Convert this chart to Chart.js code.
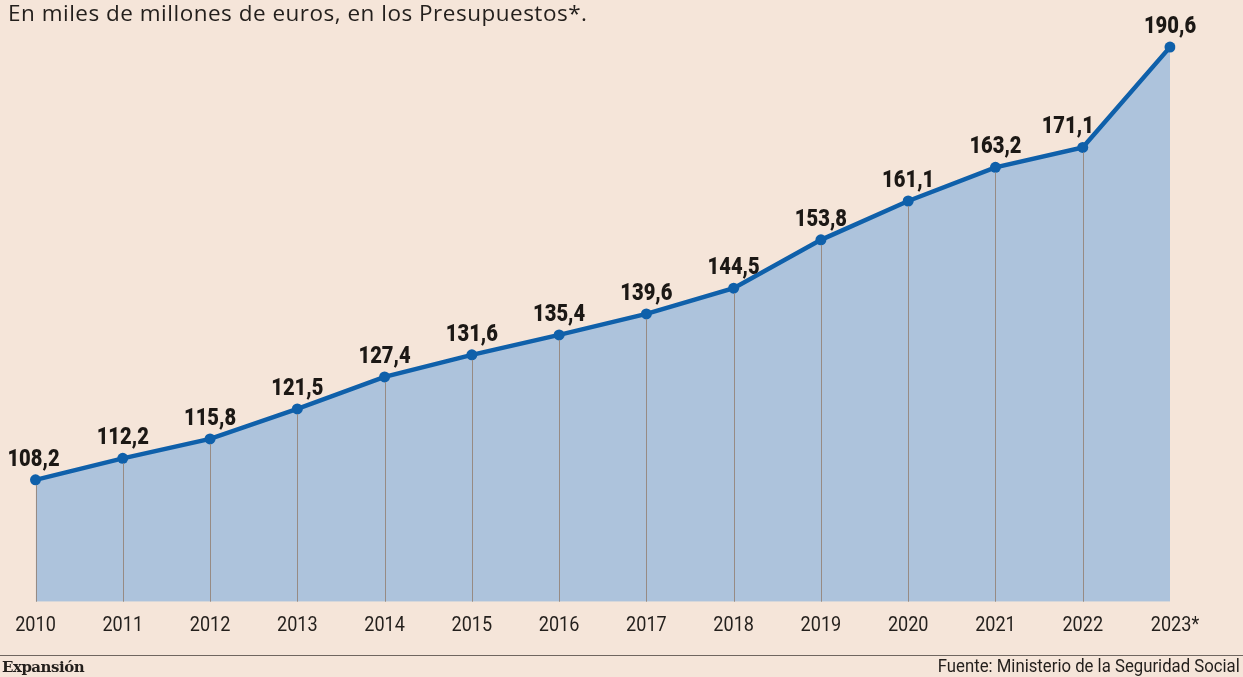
<!DOCTYPE html>
<html>
<head>
<meta charset="utf-8">
<script src="https://cdn.jsdelivr.net/npm/chart.js@4/dist/chart.umd.min.js"></script>
<style>
  html, body { margin: 0; padding: 0; background: #f5e5d9; }
  #wrap { position: relative; width: 1243px; height: 677px; overflow: hidden; background: #f5e5d9; }
  canvas { position: absolute; left: 0; top: 0; }
  #title { position: absolute; left: 8px; top: -2px; font-family: "Open Sans", Roboto, sans-serif; font-size: 22.5px; letter-spacing: 0.5px; color: #231f1c; white-space: nowrap; line-height: 30px; }
  #rule { position: absolute; left: 0; top: 655px; width: 1243px; height: 0; border-top: 1.5px solid #6f6660; }
  #brand { position: absolute; left: 2px; top: 658px; font-family: "DejaVu Serif", "Liberation Serif", serif; font-weight: bold; font-size: 15px; color: #231f1c; letter-spacing: -0.5px; }
  #source { position: absolute; right: 3px; top: 655px; font-family: Roboto, "Noto Sans", sans-serif; font-size: 18px; color: #231f1c; white-space: nowrap; transform: scaleX(0.93); transform-origin: right center; }
</style>
</head>
<body>
<div id="wrap">
  <canvas id="c" width="1243" height="677"></canvas>
  <div id="title">En miles de millones de euros, en los Presupuestos*.</div>
  <div id="rule"></div>
  <div id="brand">Expansión</div>
  <div id="source">Fuente: Ministerio de la Seguridad Social</div>
</div>
<script>
const categories = ["2010","2011","2012","2013","2014","2015","2016","2017","2018","2019","2020","2021","2022","2023*"];
// plotted heights
const values = [108.2,112.3,116.0,121.7,127.8,132.0,135.8,139.8,144.7,153.9,161.3,167.7,171.5,190.6];
const valueLabels = ["108,2","112,2","115,8","121,5","127,4","131,6","135,4","139,6","144,5","153,8","161,1","163,2","171,1","190,6"];

const dropLines = {
  id: 'dropLines',
  afterDatasetDraw(chart, args) {
    if (args.index !== 0) return;
    const ctx = chart.ctx;
    const meta = chart.getDatasetMeta(0);
    const bottom = chart.chartArea.bottom;
    ctx.save();
    ctx.strokeStyle = '#978b84';
    ctx.lineWidth = 1;
    meta.data.forEach((pt, i) => {
      if (i === meta.data.length - 1) return;
      const x = Math.round(pt.x) + 0.5;
      ctx.beginPath();
      ctx.moveTo(x, bottom);
      ctx.lineTo(x, pt.y + 5);
      ctx.stroke();
    });
    ctx.restore();
  }
};

const valueText = {
  id: 'valueText',
  afterDatasetsDraw(chart) {
    const ctx = chart.ctx;
    const meta = chart.getDatasetMeta(0);
    ctx.save();
    ctx.font = '900 24px Roboto, "Noto Sans", sans-serif';
    ctx.fillStyle = '#1c1815';
    ctx.textAlign = 'center';
    ctx.textBaseline = 'alphabetic';
    meta.data.forEach((pt, i) => {
      let dx = 0;
      if (i === 0) dx = -2;
      if (i === 12) dx = -15;
      ctx.save();
      ctx.translate(pt.x + dx, pt.y - 14);
      ctx.scale(0.84, 1);
      ctx.fillText(valueLabels[i], 0, 0);
      ctx.restore();
    });
    // x axis labels (condensed)
    const xs = chart.scales.x;
    ctx.font = '21px Roboto, "Noto Sans", sans-serif';
    ctx.fillStyle = '#231f1c';
    ctx.textBaseline = 'middle';
    categories.forEach((c, i) => {
      const x = xs.getPixelForValue(i);
      const dx = (i === categories.length - 1) ? 5 : 0;
      ctx.save();
      ctx.translate(x + dx, 626);
      ctx.scale(0.86, 1);
      ctx.fillText(c, 0, 0);
      ctx.restore();
    });
    ctx.restore();
  }
};

new Chart(document.getElementById('c'), {
  type: 'line',
  data: {
    labels: categories,
    datasets: [{
      data: values,
      borderColor: '#0f60aa',
      borderWidth: 4.5,
      backgroundColor: '#adc3dc',
      fill: 'start',
      tension: 0,
      pointRadius: 5.5,
      pointBackgroundColor: '#0f60aa',
      pointBorderWidth: 0,
      pointHoverRadius: 5.5
    }]
  },
  options: {
    responsive: false,
    animation: false,
    devicePixelRatio: 1,
    layout: { padding: { left: 35.5, right: 73, top: 24, bottom: 0 } },
    plugins: { legend: { display: false }, tooltip: { enabled: false } },
    scales: {
      x: {
        offset: false,
        grid: { display: false, drawTicks: false },
        border: { display: false },
        ticks: { display: false, autoSkip: false },
        afterFit(scale) { scale.height = 75.3; }
      },
      y: {
        display: false,
        min: 85,
        max: 195
      }
    }
  },
  plugins: [dropLines, valueText]
});
</script>
</body>
</html>
